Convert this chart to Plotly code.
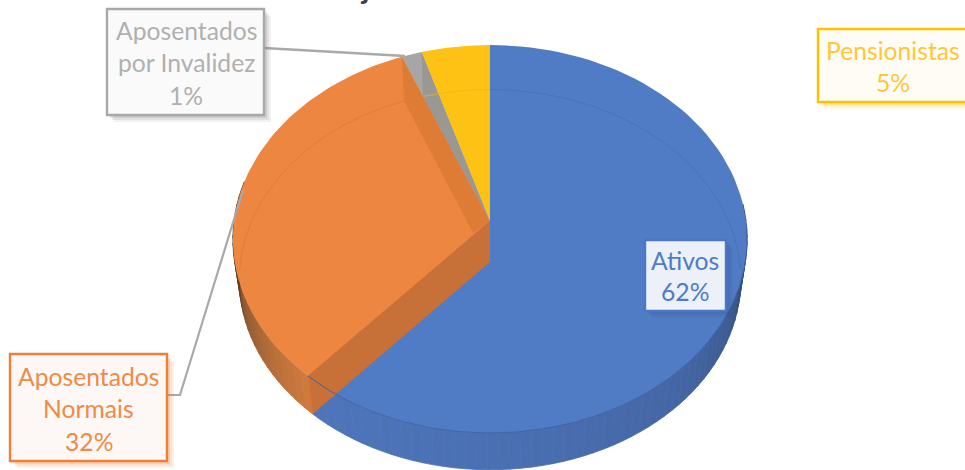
import numpy as np
import plotly.graph_objects as go

categories = ["Ativos", "Aposentados Normais", "Aposentados por Invalidez", "Pensionistas"]
shares = [61.5, 32.4, 1.4, 4.7]
percent_labels = ["62%", "32%", "1%", "5%"]
top_colors = ["#507cc5", "#ec8640", "#a6a6a6", "#fec214"]

CX, CY_TOP, CY_BOT = 490, 221, 262
A, B, K = 256, 192.3, 0.0928
SX, SY = 0.975, 0.98


def uvw(t):
    r = np.radians(t)
    u, v = np.sin(r), np.cos(r)
    return u, v, 1 + K * v


def top(t):
    u, v, w = uvw(np.asarray(t, float))
    return CX + A * u / w, CY_TOP - B * v / w


def bot(t):
    u, v, w = uvw(np.asarray(t, float))
    return CX + SX * A * u / w, CY_BOT - SY * B * v / w


def hex2rgb(h):
    return [int(h[i:i + 2], 16) for i in (1, 3, 5)]


def ramp(t, stops):
    ts = [s[0] for s in stops]
    cs = [hex2rgb(s[1]) for s in stops]
    return "rgb(%d,%d,%d)" % tuple(np.interp(t, ts, [c[i] for c in cs]) for i in range(3))


edges = np.concatenate([[0], np.cumsum(shares)]) * 3.6
fig = go.Figure()


def poly(xs, ys, fill, line=None, width=0.0, name=None):
    fig.add_trace(go.Scatter(x=list(xs), y=list(ys), mode="lines", fill="toself", fillcolor=fill,
                             line=dict(color=line or fill, width=width), hoverinfo="skip",
                             showlegend=False, name=name))


def curve(xs, ys, color, width=1.0):
    fig.add_trace(go.Scatter(x=list(xs), y=list(ys), mode="lines", line=dict(color=color, width=width),
                             hoverinfo="skip", showlegend=False))


def wall(t0, t1, n, stops):
    g = np.linspace(t0, t1, n + 1)
    for a, b in zip(g[:-1], g[1:]):
        tt = np.array([a, b])
        xt, yt = top(tt)
        xb, yb = bot(tt[::-1])
        col = ramp((a + b) / 2, stops)
        poly(np.r_[xt, xb, xt[0]], np.r_[yt, yb, yt[0]], col, width=0.8)


# outer side walls
wall(85, edges[1], 60, [(85, "#223a62"), (100, "#2e4873"), (115, "#3d5c92"), (135, "#4566a4"),
                        (180, "#4b71b4"), (222, "#4f76bb")])
wall(edges[1], 282, 26, [(222, "#d07a3e"), (235, "#b66e3a"), (250, "#905a30"), (262, "#603f25"), (282, "#3f2a1a")])

# top faces
for i, name in enumerate(categories):
    th = np.linspace(edges[i], edges[i + 1], 90)
    xs, ys = top(th)
    poly(np.r_[CX, xs, CX], np.r_[CY_TOP, ys, CY_TOP], top_colors[i], name=name)

# inner wedge walls seen through the translucent top
xe, ye = top(edges[2])
xb2, yb2 = bot(edges[2])
poly([CX, xe, xb2, 473, CX], [CY_TOP, ye, yb2, 233, CY_TOP], "#de7c35")
xe, ye = top(edges[3])
xb3, yb3 = bot(edges[3])
poly([CX, xe, 423, CX], [CY_TOP, ye, yb3, CY_TOP], "#999893")
xe, ye = top(edges[1])
xb1, yb1 = bot(edges[1])
poly([CX, xe, xb1, CX, CX], [CY_TOP, ye, yb1, CY_BOT, CY_TOP], "#c77038")
curve([CX, xe], [CY_TOP, ye], "#d9712c", 1)
curve([xe, xb1], [ye, yb1], "#dd752f", 1)

# far rim lines visible through the faces
curve(*bot(np.linspace(edges[2], edges[1] + 46, 70)), "#e07a35", 0.9)
curve(*bot(np.linspace(edges[3], 360, 20)), "#efb41d", 0.8)
curve(*bot(np.linspace(0, 92, 70)), "#4873b8", 1)
# front rim of the blue face
curve(*top(np.linspace(92, edges[1], 110)), "#3f63a6", 1)

fig.update_xaxes(range=[0, 965], visible=False, fixedrange=True)
fig.update_yaxes(range=[470, 0], visible=False, fixedrange=True)

LEADER = "#a9a9a9"
shapes = [
    dict(type="path", path="M 264 48 L 405 56", line=dict(color=LEADER, width=2.4)),
    dict(type="path", path="M 167 395 L 180 395 L 243 190", line=dict(color=LEADER, width=2.2)),
]


def box(x0, y0, x1, y1, fill, border, shadow, bw=2.4, a=1.0):
    for off, alpha in ((7, 0.10), (5, 0.14), (3, 0.18)):
        shapes.append(dict(type="rect", x0=x0 + off, y0=y0 + off, x1=x1 + off, y1=y1 + off,
                           fillcolor="rgba(%d,%d,%d,%.3f)" % (*shadow, alpha * a), line=dict(width=0)))
    shapes.append(dict(type="rect", x0=x0, y0=y0, x1=x1, y1=y1, fillcolor=fill,
                       line=dict(color=border, width=bw)))


box(107, 9, 264, 115, "#fafafa", "#a8a8a8", (120, 120, 120))
box(10, 354, 167, 461, "#fdf8f5", "#ee7f35", (237, 125, 49))
box(818, 29, 975, 102, "#fffcf5", "#ffc000", (255, 192, 0))
box(645, 240, 726, 311, "#ecf1f9", "#4a76c4", (40, 70, 130), a=0.6)

ann = []


def text_lines(cx, ys, lines, color):
    for y, s in zip(ys, lines):
        ann.append(dict(x=cx, y=y, xref="x", yref="y", text=s, showarrow=False, xanchor="center",
                        yanchor="middle", font=dict(family="Lato", size=24.7, color=color)))


text_lines(186, [30, 62, 95], ["Aposentados", "por Invalidez", percent_labels[2]], "#b0b0b0")
text_lines(88.5, [376, 408, 441], ["Aposentados", "Normais", percent_labels[1]], "#ef8a48")
text_lines(893, [50, 82], [categories[3], percent_labels[3]], "#ffc738")
text_lines(685, [260, 291], [categories[0], percent_labels[0]], "#4f7bc6")
ann.append(dict(x=365 / 965, y=1, xref="paper", yref="paper", yanchor="middle", xanchor="center", yshift=13,
                text="<b>j</b>", showarrow=False, font=dict(family="Lato", size=30, color="#404040")))

fig.update_layout(width=965, height=470, margin=dict(l=0, r=0, t=0, b=0), paper_bgcolor="white",
                  plot_bgcolor="white", shapes=shapes, annotations=ann, showlegend=False)
fig.write_html("out.html", config=dict(displayModeBar=False),
               post_script="document.body.style.margin='0';document.body.style.overflow='hidden';")
